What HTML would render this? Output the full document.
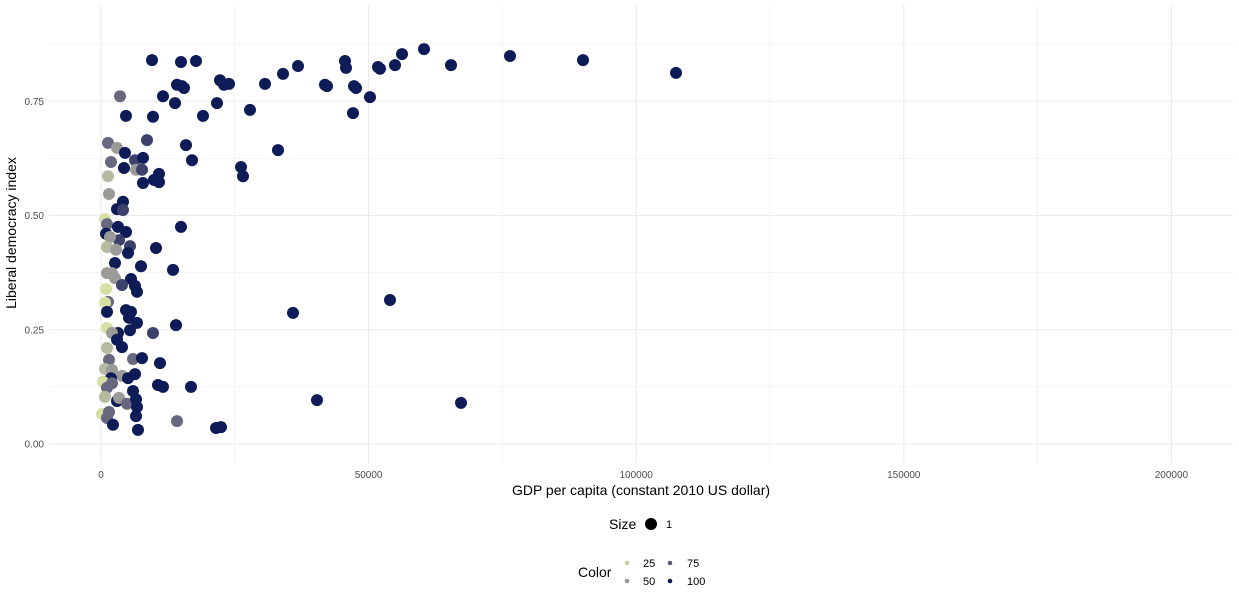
<!DOCTYPE html>
<html><head><meta charset="utf-8"><style>
body{margin:0;background:#fff;width:1239px;height:600px;overflow:hidden;font-family:"Liberation Sans",sans-serif}
</style></head><body>
<svg id="chart" width="1239" height="600" xmlns="http://www.w3.org/2000/svg" font-family="Liberation Sans, sans-serif">
<g id="grid"></g>
<g id="axes"></g>
<g id="points"></g>
<text x="641" y="495" font-size="14" text-anchor="middle" fill="#000">GDP per capita (constant 2010 US dollar)</text>
<text transform="translate(16,233) rotate(-90)" font-size="14" text-anchor="middle" fill="#000">Liberal democracy index</text>
<g>
<text x="609" y="529" font-size="14" fill="#000">Size</text>
<circle cx="651" cy="524" r="6" fill="#000"/>
<text x="666" y="528" font-size="11" fill="#000">1</text>
</g>
<g>
<text x="578" y="577" font-size="14" fill="#000">Color</text>
<circle cx="627" cy="563" r="2.3" fill="#c8d0a6"/>
<text x="643" y="567" font-size="11" fill="#000">25</text>
<circle cx="627" cy="581" r="2.3" fill="#9a9a98"/>
<text x="643" y="585" font-size="11" fill="#000">50</text>
<circle cx="670" cy="563" r="2.3" fill="#5c5a7a"/>
<text x="687" y="567" font-size="11" fill="#000">75</text>
<circle cx="670" cy="581" r="2.3" fill="#0d1b57"/>
<text x="687" y="585" font-size="11" fill="#000">100</text>
</g>
</svg>
<script>
const xTicks=[0,50000,100000,150000,200000];
const xTickLabels=["0","50000","100000","150000","200000"];
const yTicks=[0,0.25,0.5,0.75];
const yTickLabels=["0.00","0.25","0.50","0.75"];
const gdp=[9529,14948,17751,14201,15135,13827,15509,11585,4671,9716,19059,21675,22235,22983,23917,27841,30643,34007,36810,41854,42228,45591,45778,47273,47647,47086,50263,51757,52131,54934,56242,60353,65398,76422,90062,107439,3550,15882,17003,33072,26159,26533,
1308,2990,4484,6353,7848,8595,1869,4298,6540,7661,10837,9903,10837,7848,1308,1495,4111,2990,4111,747,1121,934,3176,4671,3363,1682,1121,2803,5419,5045,14948,10277,2616,7474,13453,1121,2055,2616,5606,3924,6353,6727,934,1308,747,1121,4671,5606,5232,6727,14014,9716,5419,3176,1121,2055,2990,3924,1121,1495,5979,7661,11024,747,2055,3924,1869,5045,6353,374,2055,1121,5979,10650,11585,16817,747,2990,3363,4858,6540,6727,6540,187,1495,1121,2242,6914,14201,21488,22422,35875,54000,40360,67266];
const ldi=[0.840,0.836,0.838,0.786,0.783,0.746,0.779,0.761,0.718,0.716,0.718,0.746,0.796,0.786,0.788,0.731,0.788,0.810,0.827,0.786,0.783,0.838,0.823,0.783,0.779,0.724,0.759,0.825,0.821,0.829,0.853,0.864,0.829,0.849,0.840,0.812,0.761,0.654,0.621,0.643,0.606,0.586,
0.659,0.648,0.637,0.621,0.626,0.665,0.617,0.604,0.600,0.600,0.591,0.578,0.573,0.571,0.586,0.547,0.530,0.514,0.512,0.492,0.481,0.460,0.475,0.464,0.446,0.453,0.431,0.425,0.433,0.418,0.475,0.429,0.396,0.389,0.381,0.374,0.374,0.363,0.361,0.348,0.346,0.333,0.339,0.311,0.309,0.289,0.293,0.289,0.276,0.265,0.260,0.243,0.249,0.243,0.254,0.243,0.228,0.212,0.210,0.184,0.186,0.188,0.177,0.164,0.162,0.149,0.144,0.144,0.153,0.136,0.133,0.123,0.116,0.129,0.125,0.125,0.103,0.094,0.101,0.088,0.098,0.081,0.061,0.066,0.070,0.057,0.042,0.031,0.050,0.035,0.037,0.287,0.315,0.096,0.090];
const score=[100,100,100,100,100,100,100,100,100,100,100,100,100,100,100,100,100,100,100,100,100,100,100,100,100,100,100,100,100,100,100,100,100,100,100,100,70,100,100,100,100,100,
70,50,100,85,100,85,70,100,50,85,100,100,100,100,35,50,100,100,85,15,70,100,100,100,85,50,35,50,85,100,100,100,100,100,100,50,50,50,100,85,100,100,15,70,15,100,100,100,100,100,100,85,100,100,15,50,100,100,35,70,70,100,100,35,50,50,100,100,100,15,70,70,100,100,100,100,35,100,50,70,100,100,100,15,70,70,100,100,70,100,100,100,100,100,100];
const NS="http://www.w3.org/2000/svg";
const X0=101,PX=267.6/50000,Y0=444,PY=457;
function xs(v){return X0+v*PX;}
function ys(v){return Y0-v*PY;}
const stops=[[0,[238,245,160]],[25,[200,208,166]],[50,[154,154,152]],[75,[92,90,122]],[100,[13,27,87]]];
function col(s){for(let i=1;i<stops.length;i++){if(s<=stops[i][0]){const a=stops[i-1],b=stops[i],t=(s-a[0])/(b[0]-a[0]);return "rgb("+a[1].map((c,k)=>Math.round(c+(b[1][k]-c)*t)).join(",")+")";}}return "rgb(13,27,87)";}
function mk(tag,attrs,parent){const e=document.createElementNS(NS,tag);for(const k in attrs)e.setAttribute(k,attrs[k]);parent.appendChild(e);return e;}
const grid=document.getElementById('grid'),axes=document.getElementById('axes'),pts=document.getElementById('points');
const L=49,R=1233,T=5,B=463;
for(let v=-25000;v<=225000;v+=25000){const x=xs(v);if(x<L||x>R)continue;const major=(v%50000===0);
const ln=mk('line',{x1:x,x2:x,y1:T,y2:B,stroke:'#ebebeb','stroke-width':major?1.1:0.55},grid);

}
for(let v=0;v<=0.875;v+=0.125){const y=ys(v);const major=Math.abs((v/0.25)-Math.round(v/0.25))<1e-6;
const ln=mk('line',{x1:L,x2:R,y1:y,y2:y,stroke:'#ebebeb','stroke-width':major?1.1:0.55},grid);

}
xTicks.forEach((v,i)=>{const t=mk('text',{x:xs(v),y:478,'font-size':10,'text-anchor':'middle',fill:'#4d4d4d'},axes);t.textContent=xTickLabels[i];

});
yTicks.forEach((v,i)=>{const t=mk('text',{x:44,y:ys(v)+3.5,'font-size':10,'text-anchor':'end',fill:'#4d4d4d'},axes);t.textContent=yTickLabels[i];

});
gdp.forEach((g,i)=>{const c=mk('circle',{cx:xs(g),cy:ys(ldi[i]),r:6,fill:col(score[i])},pts);

});
</script>
</body></html>
